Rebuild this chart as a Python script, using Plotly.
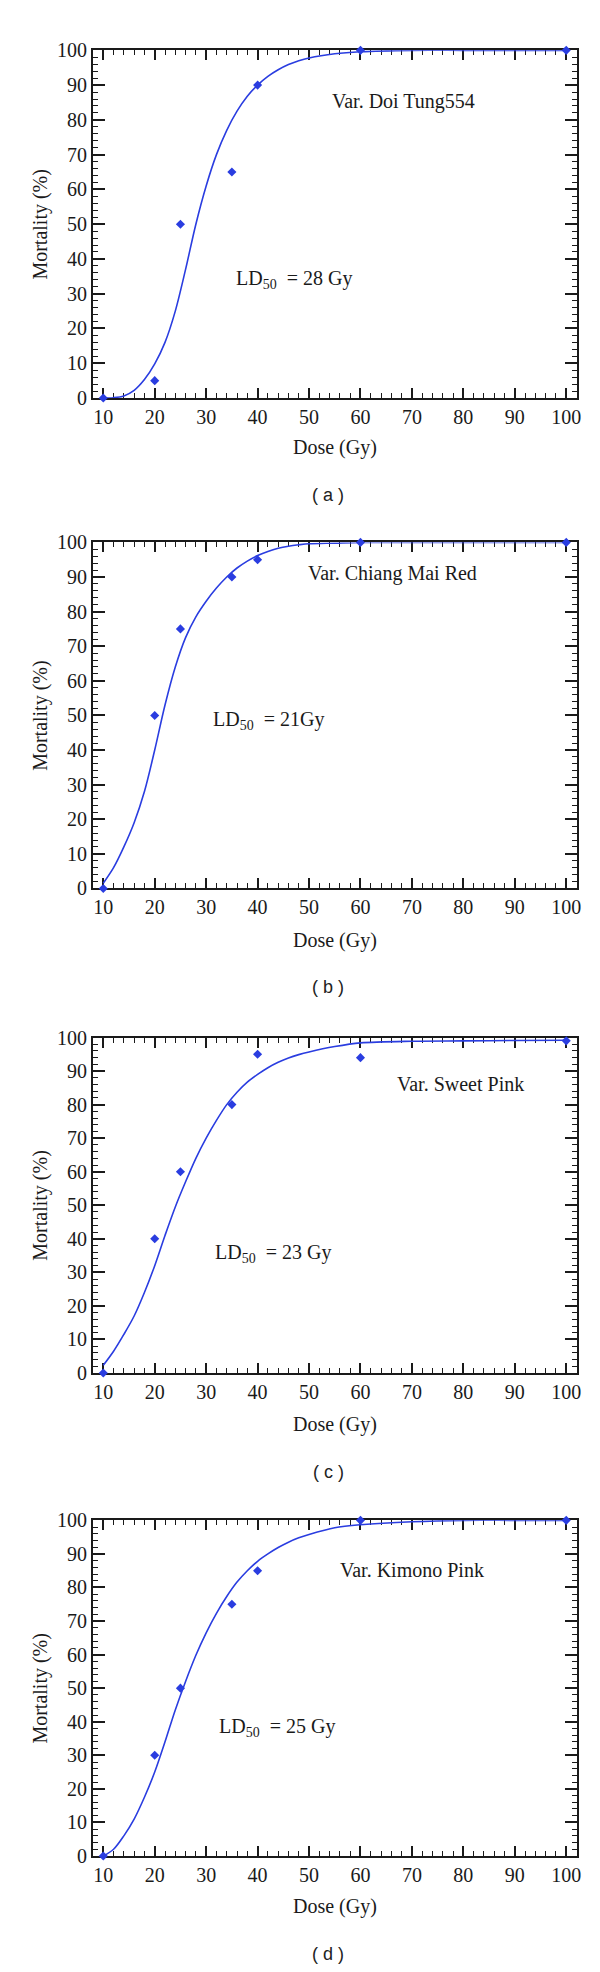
import plotly.graph_objects as go

# ---------------- data ----------------
dose_points = [10, 20, 25, 35, 40, 60, 100]

mort_a = [0, 5, 50, 65, 90, 100, 100]
mort_b = [0, 50, 75, 90, 95, 100, 100]
mort_c = [0, 40, 60, 80, 95, 94, 99]
mort_d = [0, 30, 50, 75, 85, 100, 100]

# fitted curves
fit_x = [10, 12, 14, 16, 18, 20, 22, 24, 26, 28, 30, 32, 34, 36, 38, 40, 42, 44, 46, 48, 50, 55, 60, 70, 80, 90, 100]
fit_a = [0, 0.1, 0.6, 2.2, 5.3, 9.8, 16, 25, 37, 50, 61, 70, 77, 82.5, 86.8, 90, 92.5, 94.4, 95.9, 97, 97.8, 99, 99.6, 100, 100, 100, 100]
fit_b = [1.5, 6, 12, 19, 28, 40, 53, 64, 72.5, 78.5, 83, 86.8, 90, 92.6, 94.6, 96.2, 97.4, 98.3, 98.9, 99.3, 99.6, 99.8, 100, 100, 100, 100, 100]
fit_c = [2.3, 6.5, 11.5, 17, 24, 32, 41, 49.5, 57, 64, 70, 75.3, 80, 83.7, 86.7, 89, 91, 92.6, 93.9, 94.9, 95.7, 97.3, 98.4, 98.9, 99, 99.1, 99.2]
fit_d = [0, 2, 6, 11, 17.5, 25, 34, 43.5, 52, 59.8, 66.5, 72.3, 77.3, 81.6, 85, 87.8, 90, 91.9, 93.5, 94.8, 95.8, 97.8, 98.7, 99.6, 100, 100, 100]

x_ticks = [10, 20, 30, 40, 50, 60, 70, 80, 90, 100]
y_ticks = [0, 10, 20, 30, 40, 50, 60, 70, 80, 90, 100]

variety_labels = ["Var. Doi Tung554", "Var. Chiang Mai Red", "Var. Sweet Pink", "Var. Kimono Pink"]
ld50_labels = ["LD<sub>50</sub>  = 28 Gy", "LD<sub>50</sub>  = 21Gy", "LD<sub>50</sub>  = 23 Gy", "LD<sub>50</sub>  = 25 Gy"]
panel_labels = ["( a )", "( b )", "( c )", "( d )"]

# ---------------- layout helpers ----------------
W, H = 600, 1972
BLUE = "#2a3de0"
DARK = "#1a1a1a"
SERIF = "Liberation Serif, Times New Roman, serif"
SANS = "Liberation Sans, Arial, sans-serif"
FS = 20

# pixel positions of frames (top, bottom)
frames_px = [(31.7, 383.3), (529.3, 879.3), (1030.0, 1369.3), (1518.3, 1857.7)]
x_left_px, x_right_px = 85.7, 573.3
var_pos = [(54.1, 85.4), (49.5, 90.9), (66.8, 86.2), (55.6, 85.1)]
ld_pos = [(35.4, 34.2), (31.0, 48.4), (31.4, 35.5), (32.2, 38.2)]
dose_title_px = [433, 931.7, 1421.7, 1908.3]
panel_label_px = [481.7, 979.3, 1469.3, 1957.3]

fig = go.Figure()
series = [(mort_a, fit_a), (mort_b, fit_b), (mort_c, fit_c), (mort_d, fit_d)]

layout = dict(
    width=W, height=H,
    margin=dict(l=0, r=0, t=0, b=0),
    paper_bgcolor="white", plot_bgcolor="white",
    showlegend=False,
    font=dict(family=SERIF, size=FS, color=DARK),
)
annotations = []

for i, (pts, fit) in enumerate(series):
    n = "" if i == 0 else str(i + 1)
    xa, ya = "x" + n, "y" + n
    fig.add_trace(go.Scatter(x=fit_x, y=fit, mode="lines",
                             line=dict(color=BLUE, width=1.6, shape="spline", smoothing=0.9),
                             xaxis=xa, yaxis=ya, cliponaxis=False, hoverinfo="skip"))
    fig.add_trace(go.Scatter(x=dose_points, y=pts, mode="markers",
                             marker=dict(symbol="diamond", size=7, color=BLUE),
                             xaxis=xa, yaxis=ya, cliponaxis=False))
    top, bot = frames_px[i]
    common = dict(showline=True, linecolor=DARK, linewidth=2, mirror="allticks",
                  ticks="inside", tickcolor=DARK, tickwidth=1.5, showgrid=False, zeroline=False,
                  layer="below traces", tickfont=dict(family=SERIF, size=FS, color=DARK))
    layout["xaxis" + n] = dict(
        common, domain=[x_left_px / W, x_right_px / W], anchor=ya, range=[8, 102],
        tickvals=x_ticks, ticklen=10,
        minor=dict(ticks="inside", dtick=2, tick0=8, ticklen=5, tickcolor=DARK, tickwidth=1.2),
    )
    layout["yaxis" + n] = dict(
        common, domain=[1 - bot / H, 1 - top / H], anchor=xa, range=[0, 100],
        tickvals=y_ticks, ticklen=12,
        minor=dict(ticks="inside", dtick=2, tick0=0, ticklen=5, tickcolor=DARK, tickwidth=1.2),
    )
    annotations.append(dict(xref=xa, yref=ya, x=var_pos[i][0], y=var_pos[i][1], text=variety_labels[i],
                            showarrow=False, xanchor="left", yanchor="middle",
                            font=dict(family=SERIF, size=FS, color=DARK)))
    annotations.append(dict(xref=xa, yref=ya, x=ld_pos[i][0], y=ld_pos[i][1], text=ld50_labels[i],
                            showarrow=False, xanchor="left", yanchor="middle",
                            font=dict(family=SERIF, size=FS, color=DARK)))
    annotations.append(dict(xref="paper", yref="paper", x=32.7 / W, y=1 - (top + bot) / 2 / H, text="Mortality (%)",
                            textangle=-90, showarrow=False, xanchor="center", yanchor="middle",
                            font=dict(family=SERIF, size=FS, color=DARK)))
    annotations.append(dict(xref="paper", yref="paper", x=(x_left_px + x_right_px) / 2 / W, y=1 - dose_title_px[i] / H,
                            text="Dose (Gy)", showarrow=False, xanchor="center", yanchor="middle",
                            font=dict(family=SERIF, size=FS, color=DARK)))
    annotations.append(dict(xref="paper", yref="paper", x=323 / W, y=1 - panel_label_px[i] / H,
                            text=panel_labels[i], showarrow=False, xanchor="center", yanchor="middle",
                            font=dict(family=SANS, size=18, color="#222")))

layout["annotations"] = annotations
fig.update_layout(**layout)
fig.write_html("out.html")
